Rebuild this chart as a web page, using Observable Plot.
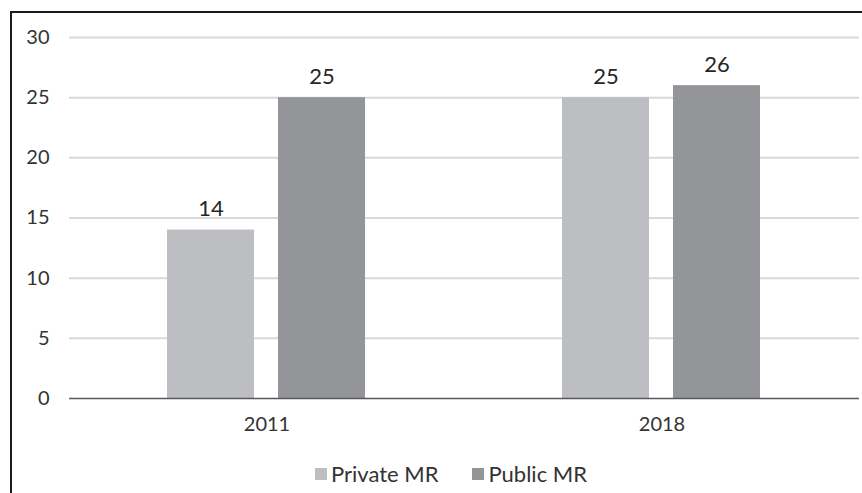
<!DOCTYPE html>
<html>
<head>
<meta charset="utf-8">
<script src="https://cdn.jsdelivr.net/npm/d3@7"></script>
<script src="https://cdn.jsdelivr.net/npm/@observablehq/plot@0.6"></script>
<style>
  html, body { margin: 0; padding: 0; background: #fff; }
  #wrap { position: relative; width: 862px; height: 493px; overflow: hidden; font-family: Lato, "Open Sans", sans-serif; }
  #border { position: absolute; left: 10px; top: 11px; width: 900px; height: 600px; border-left: 2px solid #1a1a1a; border-top: 2px solid #1a1a1a; pointer-events: none; }
  #chart { position: absolute; left: 0; top: 0; }
  #legend { position: absolute; left: 0; top: 460px; width: 862px; display: flex; justify-content: center; gap: 34px; font-size: 22px; line-height: 28px; color: #333; padding-left: 40px; box-sizing: border-box; }
  .item { display: flex; align-items: center; gap: 4px; }
  .sw { width: 12px; height: 12px; display: inline-block; }
</style>
</head>
<body>
<div id="wrap">
  <div id="chart"></div>
  <div id="legend"></div>
  <div id="border"></div>
</div>
<script>
const years = ["2011", "2018"];
const series = ["Private MR", "Public MR"];
const privateVals = [14, 25];
const publicVals = [25, 26];
const yTicks = [0, 5, 10, 15, 20, 25, 30];
const colors = ["#bdbec1", "#939598"];

const data = [];
years.forEach((yr, i) => {
  data.push({year: yr, series: series[0], value: privateVals[i]});
  data.push({year: yr, series: series[1], value: publicVals[i]});
});

const chart = Plot.plot({
  width: 862,
  height: 445,
  marginLeft: 68,
  marginRight: 3,
  marginTop: 37,
  marginBottom: 47,
  style: {fontFamily: "Lato, 'Open Sans', sans-serif", color: "#333", background: "transparent"},
  fx: {domain: years, padding: 0, label: null, axis: null},
  x: {domain: series, paddingInner: 0.214, paddingOuter: 0.875, axis: null},
  y: {domain: [0, 30], axis: null},
  color: {domain: series, range: colors},
  marks: [
    Plot.ruleY(yTicks.filter(d => d > 0), {stroke: "#d9d9d9", strokeWidth: 2}),
    Plot.barY(data, {fx: "year", x: "series", y: "value", fill: "series"}),
    Plot.text(data, {fx: "year", x: "series", y: "value", text: d => String(d.value), dy: -21, fontSize: 22, fill: "#262626"}),
    Plot.ruleY([0], {stroke: "#595959", strokeWidth: 1.5}),
    Plot.axisY(yTicks, {anchor: "left", tickSize: 0, tickPadding: 20, fontSize: 20, fill: "#333", label: null}),
    Plot.axisFx({anchor: "bottom", tickSize: 0, tickPadding: 18, fontSize: 20, fill: "#333", label: null})
  ]
});
document.getElementById("chart").appendChild(chart);

const legend = document.getElementById("legend");
series.forEach((s, i) => {
  const item = document.createElement("div");
  item.className = "item";
  const sw = document.createElement("span");
  sw.className = "sw";
  sw.style.background = colors[i];
  const t = document.createElement("span");
  t.textContent = s;
  item.appendChild(sw);
  item.appendChild(t);
  legend.appendChild(item);
});
</script>
</body>
</html>
